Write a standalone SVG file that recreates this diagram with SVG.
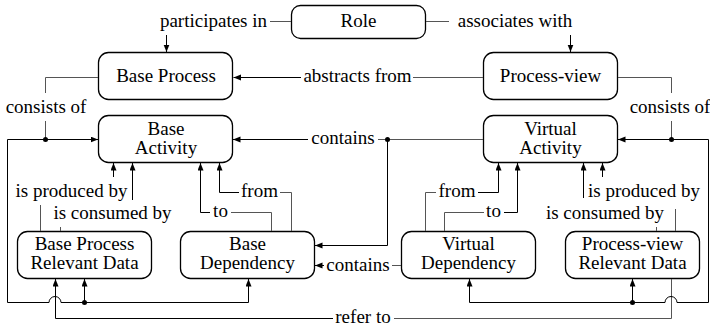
<svg xmlns="http://www.w3.org/2000/svg" width="710" height="327" viewBox="0 0 710 327" font-family="Liberation Serif" font-size="19" text-anchor="middle">
<defs>
<marker id="a" markerUnits="userSpaceOnUse" markerWidth="8" markerHeight="7" refX="7.5" refY="3" orient="auto">
<path d="M0,0 L7.5,3 L0,6 z" fill="#000"/>
</marker>
</defs>
<g fill="#fff" stroke="#000" stroke-width="1.3">
<g id="role"><rect x="291.5" y="5.5" width="134" height="33" rx="9"/><text x="358.5" y="27" fill="#000" stroke="none">Role</text></g>
<g id="base-process"><rect x="98.5" y="52.5" width="134" height="47" rx="10"/><text x="166" y="82" fill="#000" stroke="none">Base Process</text></g>
<g id="process-view"><rect x="483.5" y="52.5" width="134" height="47" rx="10"/><text x="550.5" y="82" fill="#000" stroke="none">Process-view</text></g>
<g id="base-activity"><rect x="98.5" y="115.5" width="134" height="47" rx="10"/><text x="166" y="135" fill="#000" stroke="none">Base</text><text x="166" y="154" fill="#000" stroke="none">Activity</text></g>
<g id="virtual-activity"><rect x="483.5" y="115.5" width="134" height="47" rx="10"/><text x="550.5" y="135" fill="#000" stroke="none">Virtual</text><text x="550.5" y="154" fill="#000" stroke="none">Activity</text></g>
<g id="base-data"><rect x="17.5" y="231.5" width="134" height="47" rx="10"/><text x="84.5" y="250" fill="#000" stroke="none">Base Process</text><text x="84.5" y="269" fill="#000" stroke="none">Relevant Data</text></g>
<g id="base-dependency"><rect x="180.5" y="231.5" width="134" height="47" rx="10"/><text x="247.5" y="250" fill="#000" stroke="none">Base</text><text x="247.5" y="269" fill="#000" stroke="none">Dependency</text></g>
<g id="virtual-dependency"><rect x="401.5" y="231.5" width="134" height="47" rx="10"/><text x="468.5" y="250" fill="#000" stroke="none">Virtual</text><text x="468.5" y="269" fill="#000" stroke="none">Dependency</text></g>
<g id="view-data"><rect x="565.5" y="231.5" width="134" height="47" rx="10"/><text x="632.5" y="250" fill="#000" stroke="none">Process-view</text><text x="632.5" y="269" fill="#000" stroke="none">Relevant Data</text></g>
</g>
<g id="connectors">
<g fill="none" stroke="#555" stroke-width="1">
<path d="M291,21.5 H270"/>
<path d="M426,21.5 H449"/>
<path d="M483,77.5 H413"/>
<path d="M98,77.5 H45.5 V93"/>
<path d="M45.5,121 V139.5"/>
<path d="M618,77.5 H671.5 V93"/>
<path d="M671.5,121 V139.5"/>
<path d="M483,139.5 H378"/>
<path d="M401,265.5 H392"/>
<path d="M671.5,279 V318.5 H394"/>
<path d="M40.5,231 V205"/>
<path d="M60.5,231 V227"/>
<path d="M271.5,231 V212.5 H231"/>
<path d="M291.5,231 V192.5 H280"/>
<path d="M425.5,231 V192.5 H436"/>
<path d="M444.5,231 V212.5 H484"/>
<path d="M675.5,231 V209"/>
<path d="M656.5,231 V227"/>
</g>
<g fill="none" stroke="#000" stroke-width="1" marker-end="url(#a)">
<path d="M166.5,35 V52"/>
<path d="M570.5,35 V52"/>
<path d="M301,77.5 H233.5"/>
<path d="M45.5,139.5 H98"/>
<path d="M45.5,139.5 H7.5 V302.5 H49 A6,6 0 0 1 61,302.5 H248.5 V279"/>
<path d="M84.5,302.5 V279"/>
<path d="M671.5,139.5 H618"/>
<path d="M671.5,139.5 H708.5 V302.5 H677 A6,6 0 0 0 665,302.5 H469.5 V279"/>
<path d="M632.5,302.5 V279"/>
<path d="M308,139.5 H233"/>
<path d="M387.5,139.5 V245.5 H315"/>
<path d="M324,265.5 H315"/>
<path d="M333,318.5 H55.5 V279"/>
<path d="M113.5,177 V163"/>
<path d="M132.5,200 V163"/>
<path d="M210,212.5 H200.5 V163"/>
<path d="M239,192.5 H219.5 V163"/>
<path d="M478,192.5 H498.5 V163"/>
<path d="M504,212.5 H517.5 V163"/>
<path d="M583.5,198 V163"/>
<path d="M602.5,177 V163"/>
</g>
<g fill="#000">
<circle cx="45.5" cy="139.5" r="2.5"/>
<circle cx="84.5" cy="302.5" r="2.5"/>
<circle cx="671.5" cy="139.5" r="2.5"/>
<circle cx="632.5" cy="302.5" r="2.5"/>
<circle cx="387.5" cy="139.5" r="2.5"/>
<text x="213.5" y="27">participates in</text>
<text x="515" y="27">associates with</text>
<text x="357.5" y="82">abstracts from</text>
<text x="46" y="113">consists of</text>
<text x="670" y="113">consists of</text>
<text x="343" y="144">contains</text>
<text x="358" y="271">contains</text>
<text x="363" y="323">refer to</text>
<text x="71.5" y="197">is produced by</text>
<text x="112.5" y="219">is consumed by</text>
<text x="220.5" y="217">to</text>
<text x="259.5" y="197">from</text>
<text x="457" y="197">from</text>
<text x="493.5" y="217">to</text>
<text x="644" y="197">is produced by</text>
<text x="605" y="219">is consumed by</text>
</g>
</g>
</svg>
